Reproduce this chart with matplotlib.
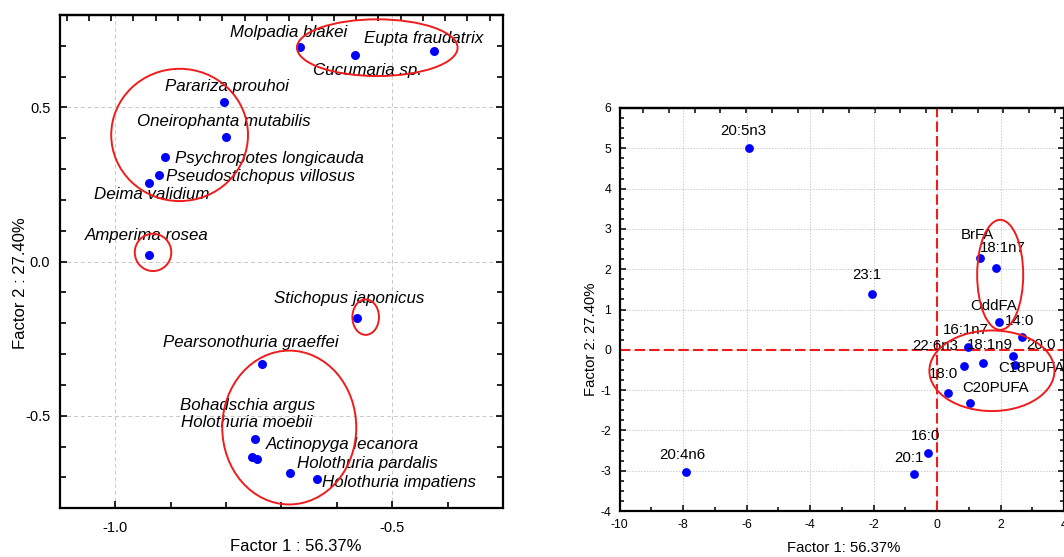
import numpy as np
import matplotlib
matplotlib.use("Agg")
import matplotlib.pyplot as plt
from matplotlib.patches import Ellipse
from matplotlib.ticker import MultipleLocator, FixedLocator, NullFormatter

plt.rcParams['font.family'] = ['Liberation Sans', 'DejaVu Sans']
plt.rcParams['axes.unicode_minus'] = False

# species scores on factors 1 and 2 (left panel)
species = ["Molpadia blakei", "Cucumaria sp.", "Eupta fraudatrix",
           "Parariza prouhoi", "Oneirophanta mutabilis", "Psychropotes longicauda",
           "Pseudostichopus villosus", "Deima validium", "Amperima rosea",
           "Stichopus japonicus", "Pearsonothuria graeffei", "Holothuria moebii",
           "Bohadschia argus", "Actinopyga lecanora", "Holothuria pardalis",
           "Holothuria impatiens"]
sp_f1 = [-0.666, -0.567, -0.425, -0.804, -0.801, -0.910, -0.922, -0.939, -0.939,
         -0.563, -0.735, -0.748, -0.754, -0.744, -0.685, -0.635]
sp_f2 = [0.695, 0.669, 0.683, 0.517, 0.405, 0.339, 0.280, 0.254, 0.021,
         -0.183, -0.331, -0.575, -0.634, -0.641, -0.684, -0.706]

# fatty acid loadings (right panel)
fatty_acids = ["20:5n3", "23:1", "BrFA", "18:1n7", "OddFA", "14:0", "16:1n7",
               "20:0", "C18PUFA", "22:6n3", "18:1n9", "18:0", "C20PUFA",
               "16:0", "20:1", "20:4n6"]
fa_f1 = [-5.93, -2.04, 1.35, 1.86, 1.96, 2.67, 0.99, 2.40, 2.46, 0.85, 1.46,
         0.34, 1.04, -0.27, -0.72, -7.91]
fa_f2 = [5.00, 1.39, 2.27, 2.02, 0.68, 0.33, 0.06, -0.15, -0.37, -0.39, -0.33,
         -1.06, -1.31, -2.56, -3.09, -3.04]

# group outlines: (centre x, centre y, width, height) in data units
sp_groups = [(-0.527, 0.694, 0.290, 0.184),
             (-0.884, 0.411, 0.247, 0.429),
             (-0.932, 0.030, 0.066, 0.121),
             (-0.548, -0.180, 0.048, 0.115),
             (-0.686, -0.538, 0.242, 0.499)]
fa_groups = [(1.99, 1.86, 1.45, 2.73),
             (1.73, -0.52, 3.94, 2.00)]

# label placement (pixel offsets from the point, alignment)
sp_offsets = {
    "Molpadia blakei": (-12, 15, "center"),
    "Cucumaria sp.": (12, -15, "center"),
    "Eupta fraudatrix": (-10, 13, "center"),
    "Parariza prouhoi": (3, 16, "center"),
    "Oneirophanta mutabilis": (-2, 15, "center"),
    "Psychropotes longicauda": (10, -1, "left"),
    "Pseudostichopus villosus": (7, -1, "left"),
    "Deima validium": (3, -11, "center"),
    "Amperima rosea": (-2, 20, "center"),
    "Stichopus japonicus": (-8, 20, "center"),
    "Pearsonothuria graeffei": (-11, 21, "center"),
    "Holothuria moebii": (-8, 16, "center"),
    "Bohadschia argus": (-4, 52, "center"),
    "Actinopyga lecanora": (9, 15, "left"),
    "Holothuria pardalis": (7, 9, "left"),
    "Holothuria impatiens": (5, -3, "left"),
}
fa_offsets = {
    "20:5n3": (-5, 17), "23:1": (-5, 19), "BrFA": (-2, 23), "18:1n7": (7, 20),
    "OddFA": (-6, 16), "14:0": (-2, 16), "16:1n7": (-3, 17), "20:0": (28, 11),
    "C18PUFA": (16, -3), "22:6n3": (-29, 20), "18:1n9": (7, 18), "18:0": (-4, 19),
    "C20PUFA": (26, 15), "16:0": (-3, 17), "20:1": (-5, 16), "20:4n6": (-4, 17),
}

red = '#ee1c1c'
blue = '#0000ff'

fig = plt.figure(figsize=(10.64, 5.57), dpi=100)

# ---- left panel: species
ax1 = fig.add_axes([60 / 1064, 48.7 / 557, 443 / 1064, 493.3 / 557])
ax1.set_xlim(-1.1, -0.3)
ax1.set_ylim(-0.8, 0.8)
ax1.xaxis.set_major_locator(FixedLocator([-1.0, -0.5]))
ax1.xaxis.set_minor_locator(MultipleLocator(0.1))
ax1.yaxis.set_major_locator(FixedLocator([-0.5, 0.0, 0.5]))
ax1.yaxis.set_minor_locator(MultipleLocator(0.1))
ax1.set_xticklabels(["-1.0", "-0.5"])
ax1.set_yticklabels(["-0.5", "0.0", "0.5"])
ax1.grid(True, which='major', color='#c8c8c8', linestyle=(0, (4, 3)), linewidth=0.7)
ax1.tick_params(which='both', direction='in', labelsize=10.5, right=True, width=1.2)
ax1.tick_params(which='major', length=5, pad=7)
ax1.tick_params(which='minor', length=4)
ax1.tick_params(axis='x', pad=9)
top1 = ax1.secondary_xaxis('top')
top1.xaxis.set_major_locator(FixedLocator(np.arange(-1.088, -0.3, 0.0402)))
top1.xaxis.set_major_formatter(NullFormatter())
top1.tick_params(direction='in', length=4, width=1.2)
for s in ax1.spines.values():
    s.set_linewidth(1.6)
top1.spines['top'].set_linewidth(1.6)

ax1.scatter(sp_f1, sp_f2, s=42, color=blue, zorder=3, linewidths=0)
for name, x, y in zip(species, sp_f1, sp_f2):
    dx, dy, ha = sp_offsets[name]
    ax1.annotate(name, (x, y), xytext=(dx, dy), textcoords='offset pixels',
                 ha=ha, va='center', fontsize=12.2, style='italic', zorder=4)
for cx, cy, w, h in sp_groups:
    ax1.add_patch(Ellipse((cx, cy), w, h, fill=False, edgecolor=red,
                          linewidth=1.4, zorder=5))

ax1.set_xlabel("Factor 1 : 56.37%", fontsize=12)
ax1.set_ylabel("Factor 2 : 27.40%", fontsize=12)
ax1.xaxis.set_label_coords(0.532, -0.078)
ax1.xaxis.label.set_va('center')
ax1.yaxis.set_label_coords(-0.09, 0.457)
ax1.yaxis.label.set_va('center')

# ---- right panel: fatty acids
ax2 = fig.add_axes([619.5 / 1064, 46 / 557, 444.5 / 1064, 403 / 557])
ax2.set_xlim(-10, 4)
ax2.set_ylim(-4, 6)
ax2.xaxis.set_major_locator(MultipleLocator(2))
ax2.xaxis.set_minor_locator(MultipleLocator(1))
ax2.yaxis.set_major_locator(MultipleLocator(1))
ax2.yaxis.set_minor_locator(MultipleLocator(0.25))
ax2.grid(True, which='major', color='#cccccc', linestyle=(0, (1.5, 1.5)), linewidth=0.7)
ax2.tick_params(which='both', direction='in', labelsize=8.8, right=True, width=1.1)
ax2.tick_params(which='major', length=4, pad=6)
ax2.tick_params(which='minor', length=3)
top2 = ax2.secondary_xaxis('top')
top2.xaxis.set_major_locator(FixedLocator(np.arange(-9.25, 4, 0.81)))
top2.xaxis.set_major_formatter(NullFormatter())
top2.tick_params(direction='in', length=3.5, width=1.1)
for s in ax2.spines.values():
    s.set_linewidth(1.6)
top2.spines['top'].set_linewidth(1.6)

ax2.axvline(0, color=red, linestyle=(0, (5, 2)), linewidth=1.5, zorder=2)
ax2.axhline(0, color=red, linestyle=(0, (5, 2)), linewidth=1.5, zorder=2)
ax2.scatter(fa_f1, fa_f2, s=40, color=blue, zorder=3, linewidths=0)
for name, x, y in zip(fatty_acids, fa_f1, fa_f2):
    dx, dy = fa_offsets[name]
    ax2.annotate(name, (x, y), xytext=(dx, dy), textcoords='offset pixels',
                 ha='center', va='center', fontsize=10.8, zorder=4,
                 annotation_clip=False)
for cx, cy, w, h in fa_groups:
    ax2.add_patch(Ellipse((cx, cy), w, h, fill=False, edgecolor=red,
                          linewidth=1.4, zorder=5))

ax2.set_xlabel("Factor 1: 56.37%", fontsize=10.7)
ax2.set_ylabel("Factor 2: 27.40%", fontsize=10.7)
ax2.xaxis.set_label_coords(0.505, -0.092)
ax2.xaxis.label.set_va('center')
ax2.yaxis.set_label_coords(-0.064, 0.427)
ax2.yaxis.label.set_va('center')

fig.savefig("out.png", dpi=100)
